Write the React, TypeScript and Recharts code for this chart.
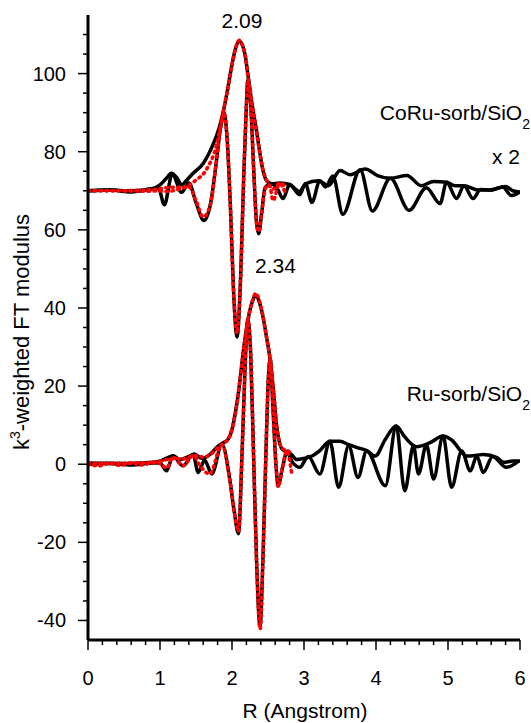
import React from "react";
import { LineChart, Line, XAxis, YAxis } from "recharts";

// CoRu-sorb/SiO2 (x 2, shifted up by 70): [R, value as plotted]
const coRuMagExp: [number, number][] = [
  [0, 70], [0.3, 70.2], [0.6, 70], [0.9, 70.6], [1.0, 71.5], [1.08, 73], [1.16, 74.5], [1.24, 73.2],
  [1.3, 71.5], [1.36, 72.5], [1.45, 74.3], [1.6, 77], [1.74, 82], [1.82, 86], [1.88, 90.4], [1.94, 96],
  [2.0, 102.3], [2.05, 106.5], [2.1, 108.3], [2.14, 107.5], [2.18, 104.9], [2.23, 98.5], [2.28, 92],
  [2.34, 85.4], [2.38, 80.5], [2.43, 75.2], [2.48, 72.6], [2.55, 71.8], [2.66, 72], [2.8, 71.6],
  [2.94, 69.8], [3.02, 71.8], [3.2, 72.6], [3.34, 71.3], [3.5, 75.2], [3.64, 74.1], [3.85, 75.6],
  [4.03, 73.8], [4.2, 73.2], [4.43, 73.9], [4.63, 71.3], [4.8, 72.4], [4.98, 72.2], [5.1, 71.3],
  [5.22, 71.3], [5.42, 70.2], [5.58, 70.2], [5.8, 71.1], [5.9, 70], [6.0, 69.7],
];
const coRuImExp: [number, number][] = [
  [0, 70], [0.3, 70.2], [0.6, 69.7], [0.9, 70.5], [0.98, 70.6], [1.06, 66.4], [1.17, 74.3], [1.3, 69.6],
  [1.4, 72], [1.5, 67], [1.61, 62.4], [1.7, 66.5], [1.78, 77], [1.84, 86], [1.89, 90], [1.93, 84],
  [1.98, 65], [2.02, 45], [2.07, 32.6], [2.12, 48], [2.16, 72], [2.2, 92], [2.22, 98.5], [2.26, 92],
  [2.3, 76], [2.34, 62], [2.37, 59], [2.41, 64], [2.46, 70.8], [2.55, 71.8], [2.63, 70.5], [2.71, 68],
  [2.8, 71.6], [2.94, 69], [3.02, 71.8], [3.11, 67], [3.22, 72.6], [3.3, 71], [3.4, 73.8], [3.54, 64],
  [3.78, 75.4], [3.95, 64.8], [4.2, 73.2], [4.46, 65], [4.7, 70.8], [4.89, 66.7], [4.98, 72.2],
  [5.12, 68], [5.22, 71.3], [5.35, 68], [5.45, 70.3], [5.6, 70.2], [5.76, 71], [5.88, 68.8], [6.0, 69.7],
];
const coRuMagFit: [number, number][] = [
  [0, 70], [0.4, 70], [0.8, 70.2], [1.0, 70.5], [1.15, 70.9], [1.32, 70.9], [1.49, 72.6], [1.65, 75.6],
  [1.79, 82], [1.88, 90.4], [1.94, 96], [2.0, 102.3], [2.05, 106.5], [2.1, 108.5], [2.14, 107.5],
  [2.18, 105], [2.23, 98.5], [2.28, 92], [2.34, 85.4], [2.38, 80.5], [2.43, 75.5], [2.5, 72],
  [2.58, 70.5], [2.66, 72], [2.75, 71],
];
const coRuImFit: [number, number][] = [
  [0, 70], [0.4, 70], [0.8, 69.9], [0.98, 70], [1.1, 69.8], [1.28, 70.5], [1.4, 71], [1.5, 67.5],
  [1.6, 63.3], [1.7, 66.5], [1.78, 77], [1.84, 86], [1.89, 90], [1.93, 84], [1.98, 65], [2.02, 45],
  [2.07, 33.5], [2.12, 48], [2.16, 72], [2.2, 92], [2.22, 98], [2.26, 92], [2.3, 76], [2.34, 62],
  [2.37, 59.5], [2.41, 64], [2.46, 70.5], [2.52, 71.5], [2.57, 67.5], [2.66, 71.8], [2.74, 69.5],
];

// Ru-sorb/SiO2
const ruMagExp: [number, number][] = [
  [0, 0.3], [0.5, 0.2], [0.9, 0.5], [1.0, 0.8], [1.1, 1.6], [1.18, 2.2], [1.28, 1.2], [1.4, 2],
  [1.48, 2.6], [1.58, 1.5], [1.7, 2.6], [1.8, 4.5], [1.88, 5.5], [1.95, 6.5], [2.0, 8.9], [2.04, 12.5],
  [2.08, 17], [2.12, 23], [2.16, 29.3], [2.2, 34.5], [2.25, 39.5], [2.29, 42], [2.33, 43.3], [2.38, 41.5],
  [2.43, 37.8], [2.48, 32.5], [2.53, 26.8], [2.58, 18], [2.62, 9.8], [2.7, 3.8], [2.76, 3.2],
  [2.82, 2.6], [2.9, 1.2], [3.0, 1.5], [3.11, 2.1], [3.22, 3.5], [3.36, 5.9], [3.5, 5.9], [3.62, 5],
  [3.75, 4.2], [3.87, 3.5], [3.99, 2.1], [4.13, 6.4], [4.28, 9.8], [4.4, 7], [4.56, 4.5], [4.75, 5.5],
  [4.93, 7.2], [5.05, 6.2], [5.26, 2.1], [5.4, 2.3], [5.49, 2.5], [5.68, 1.7], [5.77, 0.5], [5.9, 0.8],
  [6.0, 0.8],
];
const ruImExp: [number, number][] = [
  [0, 0], [0.3, 0.2], [0.6, -0.2], [0.9, 0.3], [1.0, 0.3], [1.09, -1.7], [1.18, 2.1], [1.32, -0.4],
  [1.46, 2.5], [1.53, -2.1], [1.62, 1], [1.72, -2.5], [1.86, 5.1], [1.97, -4], [2.03, -12],
  [2.09, -17.8], [2.14, 3], [2.18, 24], [2.22, 37], [2.26, 28], [2.3, 2], [2.34, -24], [2.39, -41.6],
  [2.43, -24], [2.47, 2], [2.5, 20], [2.53, 27], [2.57, 14], [2.61, 0], [2.64, -5.5], [2.7, -1],
  [2.76, 3], [2.84, 0.5], [2.94, -0.8], [3.06, 2], [3.22, -2.5], [3.36, 5.9], [3.48, -5.9], [3.62, 4.7],
  [3.75, -3.4], [3.87, 3.4], [4.13, -5.5], [4.28, 9.8], [4.4, -6.8], [4.52, 4.7], [4.59, -2.5],
  [4.7, 5], [4.8, -3.8], [4.93, 7.2], [5.05, -5.9], [5.19, 3.4], [5.31, -1.7], [5.4, 2.1], [5.49, -2.1],
  [5.62, 2], [5.81, -0.8], [5.98, 0.8],
];
const ruMagFit: [number, number][] = [
  [0, 0.3], [0.3, 0.2], [0.6, 0.3], [0.9, 0.5], [1.0, 0.8], [1.1, 1.2], [1.2, 1.5], [1.3, 1.3],
  [1.4, 1.8], [1.5, 2.2], [1.6, 1.8], [1.7, 2.5], [1.8, 4.2], [1.88, 5.3], [1.95, 6.5], [2.0, 8.9],
  [2.04, 12.5], [2.08, 17], [2.12, 23], [2.16, 29.3], [2.2, 34.5], [2.25, 39.5], [2.29, 42.2],
  [2.33, 43.8], [2.38, 41.8], [2.43, 37.8], [2.48, 32.5], [2.53, 26.8], [2.58, 18], [2.62, 9.8],
  [2.7, 4], [2.76, 3.6], [2.84, 2.5],
];
const ruImFit: [number, number][] = [
  [0, 0], [0.15, -0.4], [0.3, 0.3], [0.45, -0.3], [0.6, 0.3], [0.75, -0.2], [0.9, 0.4], [1.0, 0.2],
  [1.09, -1], [1.18, 1.8], [1.32, -0.4], [1.46, 2.2], [1.56, -0.5], [1.69, -2.5], [1.86, 5],
  [1.97, -4], [2.03, -12], [2.09, -17.2], [2.14, 3], [2.18, 24], [2.22, 37], [2.26, 28], [2.3, 2],
  [2.34, -24], [2.39, -42.2], [2.43, -24], [2.47, 2], [2.5, 20], [2.53, 27], [2.57, 14], [2.61, 0],
  [2.64, -5.8], [2.7, -1], [2.76, 3.4], [2.83, -2.5],
];

const xMajor = [0, 1, 2, 3, 4, 5, 6];
const yMajor = [-40, -20, 0, 20, 40, 60, 80, 100];
const xTicks = Array.from({ length: 31 }, (_, i) => Math.round(i * 2) / 10);
const yTicks = Array.from({ length: 31 }, (_, i) => -40 + i * 5);

const FONT = "'Liberation Sans', Arial, sans-serif";

const toPts = (arr: [number, number][]) => arr.map(([r, v]) => ({ r, v }));

const XTick = (props: any) => {
  const { x, y, payload } = props;
  const major = xMajor.some((m) => Math.abs(m - payload.value) < 1e-6);
  return (
    <g>
      <line x1={x} x2={x} y1={y} y2={y + (major ? 10 : 5)} stroke="#000" strokeWidth={1.5} />
      {major && (
        <text x={x} y={y + 45} textAnchor="middle" fontSize={20} fontFamily={FONT} fill="#000">
          {payload.value}
        </text>
      )}
    </g>
  );
};

const YTick = (props: any) => {
  const { x, y, payload } = props;
  const major = yMajor.includes(payload.value);
  return (
    <g>
      <line x1={x - (major ? 10 : 5)} x2={x} y1={y} y2={y} stroke="#000" strokeWidth={1.5} />
      {major && (
        <text x={x - 22} y={y + 7} textAnchor="end" fontSize={20} fontFamily={FONT} fill="#000">
          {payload.value}
        </text>
      )}
    </g>
  );
};

export default function App() {
  const black = { stroke: "#000", strokeWidth: 3.5, dot: false as const, strokeLinejoin: "round" as const };
  const red = {
    stroke: "#ff0000",
    strokeWidth: 3.6,
    strokeDasharray: "1.5 4.5",
    strokeLinecap: "round" as const,
    dot: false as const,
  };
  return (
    <div style={{ position: "fixed", left: 0, top: 0, width: 531, height: 723, background: "#fff" }}>
      <LineChart width={531} height={723} margin={{ top: 15, right: 11, left: 0, bottom: 0 }}>
        <XAxis
          type="number"
          dataKey="r"
          domain={[0, 6]}
          ticks={xTicks}
          interval={0}
          height={83}
          tickSize={0}
          tickMargin={0}
          tickLine={false}
          tick={<XTick />}
          axisLine={{ stroke: "#000", strokeWidth: 3 }}
          allowDataOverflow
        />
        <YAxis
          type="number"
          dataKey="v"
          domain={[-45, 115]}
          ticks={yTicks}
          interval={0}
          width={88}
          tickSize={0}
          tickMargin={0}
          tickLine={false}
          tick={<YTick />}
          axisLine={{ stroke: "#000", strokeWidth: 3 }}
          allowDataOverflow
        />
        <Line data={toPts(coRuMagExp)} dataKey="v" type="monotoneX" {...black} isAnimationActive={false} />
        <Line data={toPts(coRuImExp)} dataKey="v" type="monotoneX" {...black} isAnimationActive={false} />
        <Line data={toPts(ruMagExp)} dataKey="v" type="monotoneX" {...black} isAnimationActive={false} />
        <Line data={toPts(ruImExp)} dataKey="v" type="monotoneX" {...black} isAnimationActive={false} />
        <Line data={toPts(coRuMagFit)} dataKey="v" type="monotoneX" {...red} isAnimationActive={false} />
        <Line data={toPts(coRuImFit)} dataKey="v" type="monotoneX" {...red} isAnimationActive={false} />
        <Line data={toPts(ruMagFit)} dataKey="v" type="monotoneX" {...red} isAnimationActive={false} />
        <Line data={toPts(ruImFit)} dataKey="v" type="monotoneX" {...red} isAnimationActive={false} />
      </LineChart>
      <svg
        width={531}
        height={723}
        style={{ position: "absolute", left: 0, top: 0, pointerEvents: "none" }}
        fontFamily={FONT}
        fill="#000"
      >
        <text x={242} y={28} fontSize={21} textAnchor="middle">2.09</text>
        <text x={275.5} y={273} fontSize={21} textAnchor="middle">2.34</text>
        <text x={530} y={120} fontSize={21} textAnchor="end">
          CoRu-sorb/SiO<tspan dy={9} fontSize={14}>2</tspan>
        </text>
        <text x={520} y={164} fontSize={21} textAnchor="end">x 2</text>
        <text x={530} y={401} fontSize={21} textAnchor="end">
          Ru-sorb/SiO<tspan dy={9} fontSize={14}>2</tspan>
        </text>
        <text x={305} y={718} fontSize={21} textAnchor="middle">R (Angstrom)</text>
        <text x={0} y={0} fontSize={22} textAnchor="middle" transform="translate(29,332) rotate(-90)">
          k<tspan dy={-9} fontSize={14}>3</tspan>
          <tspan dy={9}>-weighted FT modulus</tspan>
        </text>
      </svg>
    </div>
  );
}
